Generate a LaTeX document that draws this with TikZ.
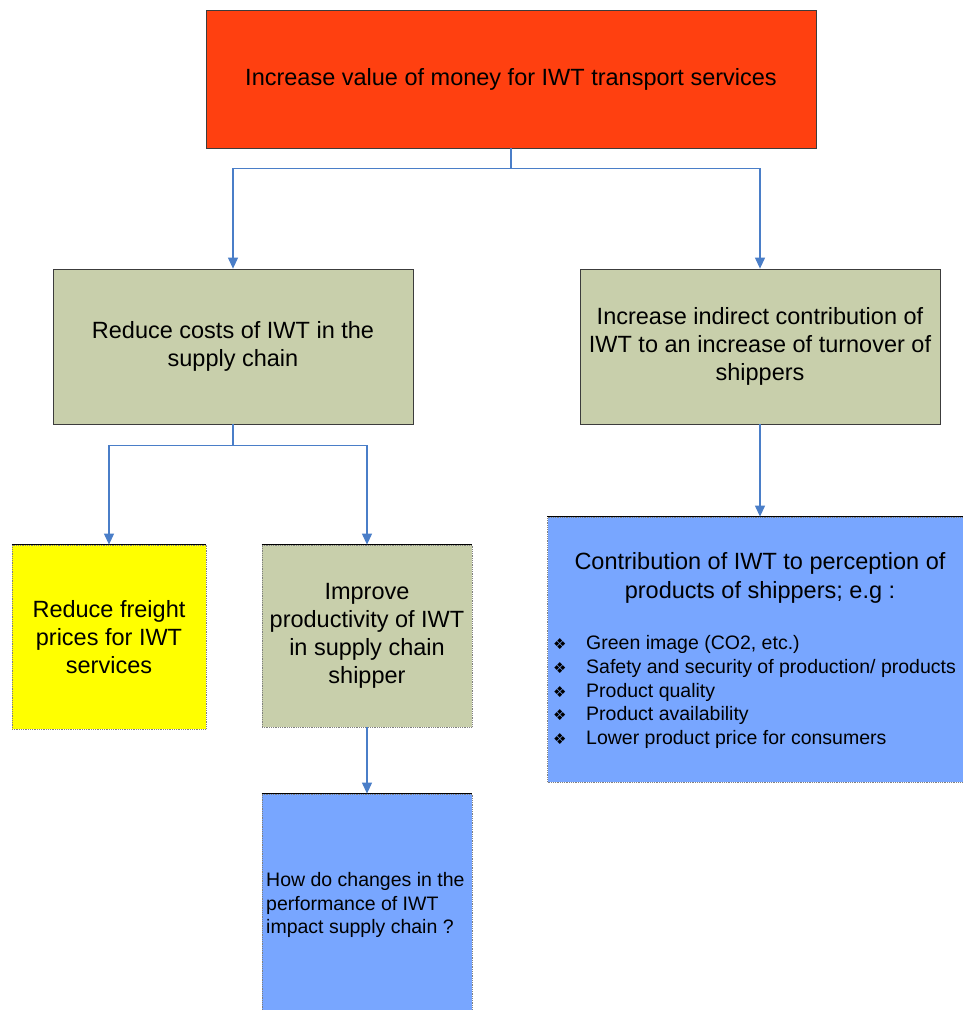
\documentclass[tikz,border=0pt]{standalone}
\usepackage{fontspec}
\setmainfont{Liberation Sans}
\newfontfamily\symfont{DejaVu Sans}
\usetikzlibrary{arrows.meta}
\definecolor{topred}{RGB}{255,64,16}
\definecolor{olive}{RGB}{200,207,171}
\definecolor{lblue}{RGB}{120,166,255}
\definecolor{pureyellow}{RGB}{255,255,0}
\definecolor{conn}{RGB}{74,126,200}
\definecolor{edge}{RGB}{60,60,60}
\tikzset{
  box/.style={rectangle, draw=edge, line width=0.8pt, inner sep=4pt, align=center,
    font=\fontsize{23.5}{28}\selectfont},
  dotbox/.style={rectangle, draw=gray, densely dotted, line width=0.8pt, inner sep=4pt, align=center,
    font=\fontsize{23.5}{28}\selectfont},
  small/.style={font=\fontsize{19.5}{23.7}\selectfont, inner sep=0pt, align=left},
  arr/.style={draw=conn, line width=1.1pt, -{Triangle[width=10pt,length=11pt]}},
  plain/.style={draw=conn, line width=1.1pt}
}
\newcommand{\dia}{\makebox[33pt][l]{\symfont\fontsize{15}{15}\selectfont ❖}}
\begin{document}
\begin{tikzpicture}[x=1pt,y=-1pt]
\useasboundingbox (0,0) rectangle (962,1010);
\fill[white] (0,0) rectangle (962,1010);

% top
\node[box, fill=topred, minimum width=610pt, minimum height=138pt] (top) at (511,79)
  {Increase value of money for IWT transport services};

% level 2
\node[box, fill=olive, minimum width=360pt, minimum height=155pt] (cost) at (233,346.5)
  {Reduce costs of IWT in the\\supply chain};
\node[box, fill=olive, minimum width=360pt, minimum height=155pt] (turn) at (760,346.5)
  {Increase indirect contribution of\\IWT to an increase of turnover of\\shippers};

% level 3
\node[dotbox, fill=pureyellow, minimum width=194pt, minimum height=184pt] (freight) at (109,637)
  {Reduce freight\\prices for IWT\\services};
\draw[black, line width=0.8pt] (freight.north west) -- (freight.north east);

\node[dotbox, fill=olive, minimum width=210pt, minimum height=182pt] (prod) at (367,636)
  {Improve\\productivity of IWT\\in supply chain\\shipper};
\draw[black, line width=0.8pt] (prod.north west) -- (prod.north east);

\node[dotbox, fill=lblue, minimum width=416pt, minimum height=265pt] (perc) at (755.5,649.5) {};
\draw[black, line width=0.8pt] (perc.north west) -- (perc.north east);
\node[font=\fontsize{23.5}{29}\selectfont, align=center, inner sep=0pt] (perct) at (760,578)
  {Contribution of IWT to perception of\\products of shippers; e.g :};
\node[small, anchor=west] (list) at (553,692)
  {\dia Green image (CO2, etc.)\\
   \dia Safety and security of production/ products\\
   \dia Product quality\\
   \dia Product availability\\
   \dia Lower product price for consumers};

% level 4
\node[dotbox, fill=lblue, minimum width=210pt, minimum height=218pt] (how) at (367,903) {};
\draw[black, line width=0.8pt] (how.north west) -- (how.north east);
\node[small, anchor=west] (howt) at (266,905)
  {How do changes in the\\performance of IWT\\impact supply chain ?};

% connectors
\draw[plain] (top.south) -- ++(0,20) coordinate (j1);
\draw[arr] (j1) -| (cost.north);
\draw[arr] (j1) -| (turn.north);
\draw[plain] (cost.south) -- ++(0,21) coordinate (j2);
\draw[arr] (j2) -| (freight.north);
\draw[arr] (j2) -| (prod.north);
\draw[arr] (turn.south) -- (turn.south |- perc.north);
\draw[arr] (prod.south) -- (how.north);
\end{tikzpicture}
\end{document}
